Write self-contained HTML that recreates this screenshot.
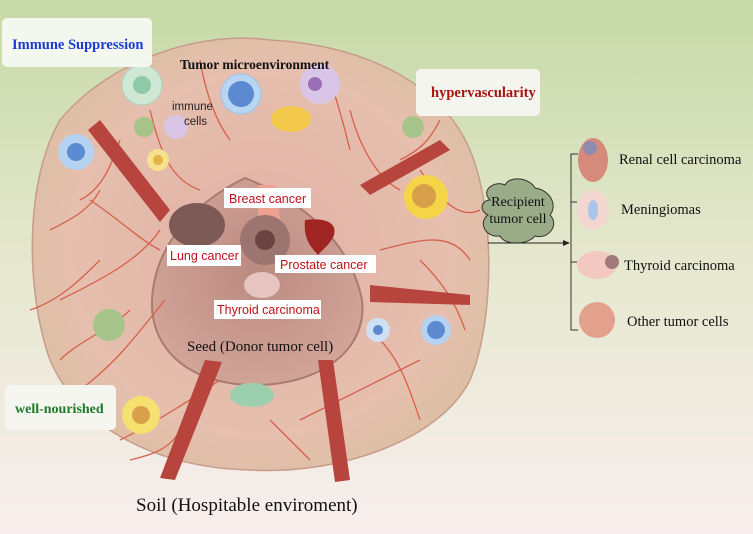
<!DOCTYPE html>
<html><head><meta charset="utf-8"><style>
body{margin:0;width:753px;height:534px;overflow:hidden}
svg{display:block}
.s{font-family:"Liberation Serif",serif}
.a{font-family:"Liberation Sans",sans-serif}
</style></head><body>
<svg width="753" height="534" viewBox="0 0 753 534">
<defs>
<linearGradient id="bg" x1="0" y1="0" x2="0" y2="1">
<stop offset="0" stop-color="#c6d9a6"/><stop offset="0.5" stop-color="#e6e8cf"/><stop offset="1" stop-color="#f8eeee"/></linearGradient>
<radialGradient id="blob" cx="0.5" cy="0.5" r="0.6">
<stop offset="0" stop-color="#e0b0a4"/><stop offset="0.7" stop-color="#e6bfae"/><stop offset="1" stop-color="#d9bfa0"/></radialGradient>
<radialGradient id="seed" cx="0.5" cy="0.45" r="0.6">
<stop offset="0" stop-color="#bb8a80"/><stop offset="1" stop-color="#d3a69a"/></radialGradient>
</defs>
<rect width="753" height="534" fill="url(#bg)"/>
<path d="M60,120 C110,60 200,30 270,40 C360,45 440,80 470,150 C495,210 495,320 470,380 C440,440 340,475 250,470 C160,468 80,430 50,360 C25,290 25,180 60,120Z" fill="url(#blob)" stroke="#c79b8c" stroke-width="1.5"/>
<path d="M245,178 C300,200 350,240 362,300 C368,350 320,385 255,385 C190,385 150,350 152,300 C155,240 200,200 245,178Z" fill="url(#seed)" stroke="#a87a70" stroke-width="2"/>
<g stroke="#d7604a" stroke-width="1.3" fill="none">
<path d="M60,300 C100,280 140,260 160,230 M80,390 C120,360 140,330 165,300 M300,420 C340,400 380,380 420,360 M380,250 C420,240 450,230 470,260 M350,110 C360,150 380,180 400,190 M150,110 C160,150 170,180 200,190 M120,440 C160,420 190,400 220,380 M420,170 C440,200 460,220 480,210 M90,200 C120,220 140,240 160,250"/>
<path d="M30,310 C60,300 80,280 100,260 M60,360 C80,340 110,330 130,310 M100,190 C90,210 70,220 50,230 M330,80 C340,110 345,130 350,150 M200,60 C205,90 215,120 230,140 M120,140 C110,170 100,190 80,200 M420,260 C440,280 455,300 465,330 M380,340 C400,360 410,390 420,420 M270,420 C290,440 300,450 310,460 M180,430 C170,450 150,455 130,460 M440,120 C430,140 420,150 400,160"/>
</g>
<g fill="#b8453d">
<path d="M88,130 L100,120 L170,210 L160,222Z"/>
<path d="M440,140 L450,150 L370,195 L360,185Z"/>
<path d="M370,285 L470,295 L470,305 L370,302Z"/>
<path d="M205,360 L222,362 L175,480 L160,478Z"/>
<path d="M318,360 L333,360 L350,480 L335,482Z"/>
</g>
<circle cx="142" cy="85" r="20" fill="#cfe8d6" stroke="#a6d4c0"/><circle cx="142" cy="85" r="9" fill="#8fcaa8"/>
<circle cx="241" cy="94" r="20" fill="#b8d6f2" stroke="#9cc4ea"/><circle cx="241" cy="94" r="13" fill="#5b8ad0"/>
<circle cx="320" cy="84" r="20" fill="#d9c6e6"/><circle cx="315" cy="84" r="7" fill="#9a6fb5"/>
<ellipse cx="291" cy="119" rx="20" ry="13" fill="#f2c94a"/>
<circle cx="176" cy="127" r="12" fill="#d9c6e6"/>
<circle cx="76" cy="152" r="18" fill="#b5d2f0"/><circle cx="76" cy="152" r="9" fill="#5b8ad0"/>
<circle cx="158" cy="160" r="11" fill="#f5e28a"/><circle cx="158" cy="160" r="5" fill="#e2b44a"/>
<circle cx="144" cy="127" r="10" fill="#a6c48a"/>
<circle cx="413" cy="127" r="11" fill="#a6c48a"/>
<circle cx="426" cy="197" r="22" fill="#f5d548"/><circle cx="424" cy="196" r="12" fill="#d8a04a"/>
<circle cx="109" cy="325" r="16" fill="#a6c48a"/>
<circle cx="378" cy="330" r="12" fill="#cfe0f5"/><circle cx="378" cy="330" r="5" fill="#5b8ad0"/>
<circle cx="436" cy="330" r="15" fill="#b5d2f0"/><circle cx="436" cy="330" r="9" fill="#5b8ad0"/>
<ellipse cx="252" cy="395" rx="22" ry="12" fill="#9bcfae"/>
<circle cx="141" cy="415" r="19" fill="#f5e070"/><circle cx="141" cy="415" r="9" fill="#d8a04a"/>
<path d="M258,185 L275,185 L285,250 L258,262Z" fill="#f0a090"/>
<ellipse cx="197" cy="225" rx="28" ry="22" fill="#7e5a56"/>
<circle cx="265" cy="240" r="25" fill="#9d7570"/><circle cx="265" cy="240" r="10" fill="#6b4542"/>
<path d="M305,220 C320,218 338,220 334,235 C330,245 322,250 318,255 C312,248 303,240 305,220Z" fill="#a02522"/>
<ellipse cx="262" cy="285" rx="18" ry="13" fill="#e6c4c0"/>
<rect x="2" y="18" width="150" height="49" rx="5" fill="#f4f7ee"/>
<text x="12" y="49" class="s" font-size="14.5" font-weight="bold" fill="#1a3bd6">Immune Suppression</text>
<text x="180" y="69" class="s" font-size="13.5" font-weight="bold" fill="#111">Tumor microenvironment</text>
<rect x="416" y="69" width="124" height="47" rx="5" fill="#f4f5ee"/>
<text x="431" y="97" class="s" font-size="14.5" font-weight="bold" fill="#a8120f">hypervascularity</text>
<text x="172" y="110" class="a" font-size="11.5" fill="#222">immune</text>
<text x="184" y="125" class="a" font-size="11.5" fill="#222">cells</text>
<rect x="224" y="188" width="87" height="20" fill="#fff"/>
<text x="229" y="203" class="a" font-size="12.5" fill="#c0101a">Breast cancer</text>
<rect x="167" y="245" width="74" height="21" fill="#fff"/>
<text x="170" y="260" class="a" font-size="12.5" fill="#c0101a">Lung cancer</text>
<rect x="275" y="255" width="101" height="18" fill="#fff"/>
<text x="280" y="269" class="a" font-size="12.5" fill="#c0101a">Prostate  cancer</text>
<rect x="214" y="300" width="107" height="19" fill="#fff"/>
<text x="217" y="314" class="a" font-size="12.5" fill="#c0101a">Thyroid carcinoma</text>
<text x="187" y="351" class="s" font-size="15" fill="#111">Seed (Donor tumor cell)</text>
<rect x="5" y="385" width="111" height="45" rx="5" fill="#f5f6ef"/>
<text x="15" y="413" class="s" font-size="14" font-weight="bold" fill="#1e7a2a">well-nourished</text>
<text x="136" y="511" class="s" font-size="19" fill="#111">Soil (Hospitable enviroment)</text>
<path d="M490,200 C480,190 495,180 505,185 C510,175 530,178 535,188 C550,190 558,205 550,215 C560,225 548,240 535,236 C528,245 505,246 500,236 C485,238 478,222 488,215 C478,210 482,200 490,200Z" fill="#9aab88" stroke="#333" stroke-width="1"/>
<text x="518" y="206" class="s" font-size="14" text-anchor="middle" fill="#111">Recipient</text>
<text x="518" y="223" class="s" font-size="14" text-anchor="middle" fill="#111">tumor cell</text>
<path d="M488,243 L567,243" stroke="#222" stroke-width="1"/><path d="M570,243 L563,240 L563,246Z" fill="#222"/>
<path d="M578,154 L571,154 L571,330 L578,330 M571,202 L577,202 M571,262 L577,262" stroke="#333" fill="none" stroke-width="1"/>
<ellipse cx="593" cy="160" rx="15" ry="22" fill="#d68a7c"/><circle cx="590" cy="148" r="7" fill="#8f8ab0"/>
<ellipse cx="593" cy="210" rx="16" ry="20" fill="#f4d6d0"/><ellipse cx="593" cy="210" rx="5" ry="10" fill="#a9c4ea"/>
<ellipse cx="597" cy="265" rx="20" ry="14" fill="#f2c8c0"/><circle cx="612" cy="262" r="7" fill="#a07a7a"/>
<circle cx="597" cy="320" r="18" fill="#e3a08c"/>
<text x="619" y="164" class="s" font-size="14.5" fill="#111">Renal cell carcinoma</text>
<text x="621" y="214" class="s" font-size="14.5" fill="#111">Meningiomas</text>
<text x="624" y="270" class="s" font-size="14.5" fill="#111">Thyroid carcinoma</text>
<text x="627" y="326" class="s" font-size="14.5" fill="#111">Other tumor cells</text>
</svg>
</body></html>
